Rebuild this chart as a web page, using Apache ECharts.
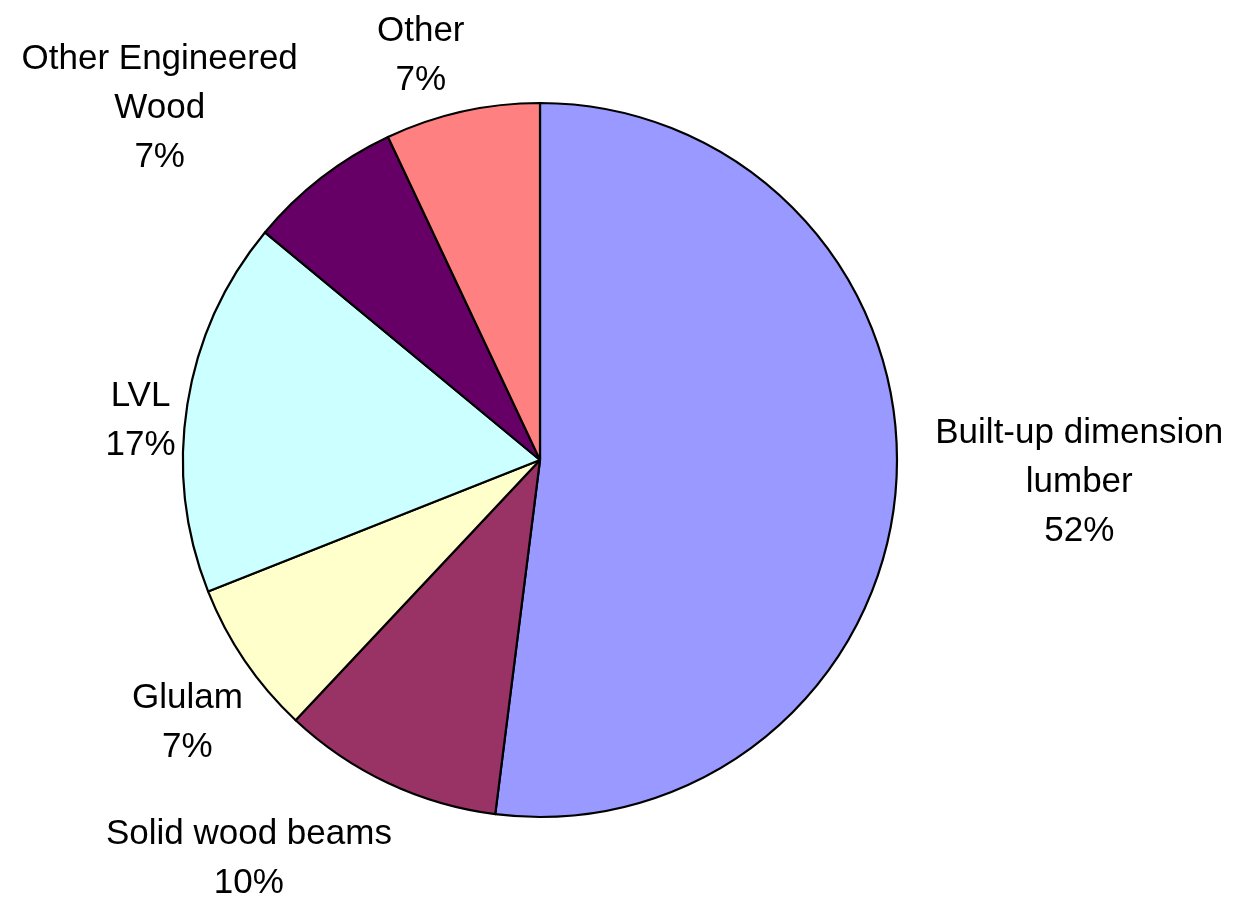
<!DOCTYPE html>
<html>
<head>
<meta charset="utf-8">
<style>
  html, body { margin: 0; padding: 0; background: #fff; }
  #chart { width: 1243px; height: 898px; }
</style>
<script src="https://cdn.jsdelivr.net/npm/echarts@6/dist/echarts.min.js"></script>
</head>
<body>
<div id="chart"></div>
<script>
// Beam material shares, clockwise from 12 o'clock
const categories = [
  'Built-up dimension\nlumber',
  'Solid wood beams',
  'Glulam',
  'LVL',
  'Other Engineered\nWood',
  'Other'
];
const shares = [52, 10, 7, 17, 7, 7];
const colors = ['#9999FF', '#993366', '#FFFFCC', '#CCFFFF', '#660066', '#FF8080'];

// Extra offset [dx, dy] applied to each outside label after the library places it
const labelNudge = [[2, -1], [34, 65], [33, 55], [25, 19], [9, -60], [30, -44]];

const chart = echarts.init(document.getElementById('chart'), null, { renderer: 'canvas' });

chart.setOption({
  animation: false,
  backgroundColor: '#ffffff',
  series: [{
    type: 'pie',
    center: [540, 460],
    radius: 357,
    startAngle: 90,
    clockwise: true,
    avoidLabelOverlap: false,
    data: categories.map((name, i) => ({
      name: name,
      value: shares[i],
      itemStyle: { color: colors[i] }
    })),
    itemStyle: { borderColor: '#000', borderWidth: 2.2 },
    label: {
      show: true,
      position: 'outside',
      formatter: p => p.name + '\n' + p.value + '%',
      fontFamily: 'Liberation Sans, Arial, sans-serif',
      fontSize: 35,
      lineHeight: 49,
      color: '#000'
    },
    labelLine: { show: false, length: 12, length2: 20 },
    labelLayout: params => {
      // centre each line within its block, then shift the block outward
      const r = params.labelRect;
      const n = labelNudge[params.dataIndex] || [0, 0];
      return {
        x: r.x + r.width / 2 + n[0],
        y: r.y + r.height / 2 + n[1],
        align: 'center',
        verticalAlign: 'middle'
      };
    },
    emphasis: { disabled: true }
  }]
});
</script>
</body>
</html>
